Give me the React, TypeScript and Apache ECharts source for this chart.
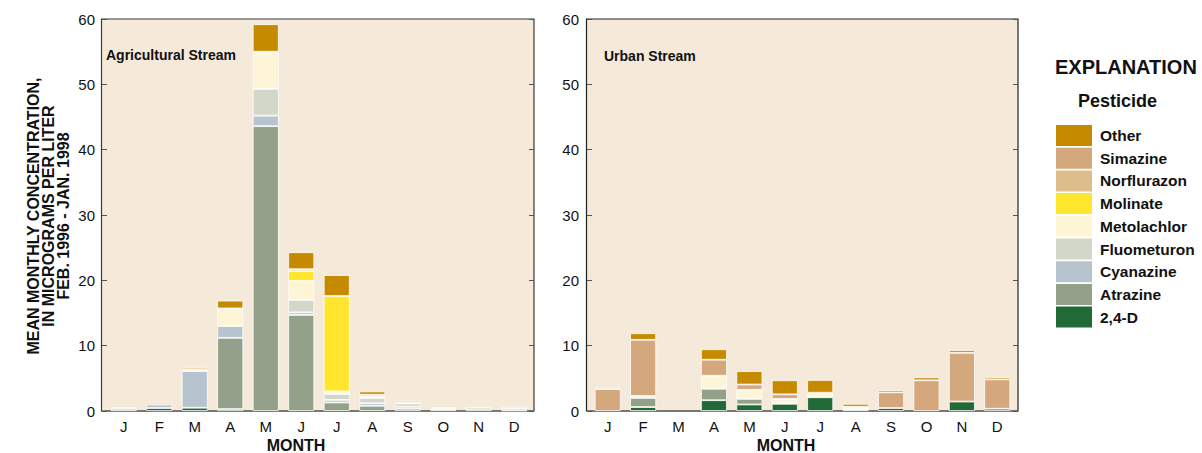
import React, { useEffect, useRef } from "react";
import * as echarts from "echarts";

// Month categories shared by both panels
const months = ["J", "F", "M", "A", "M", "J", "J", "A", "S", "O", "N", "D"];

// Pesticides, listed bottom of stack to top
const pesticides = [
  "2,4-D",
  "Atrazine",
  "Cyanazine",
  "Fluometuron",
  "Metolachlor",
  "Molinate",
  "Norflurazon",
  "Simazine",
  "Other",
];

const pesticideColors = [
  "#216a38",
  "#93a18b",
  "#b7c4cf",
  "#d2d7ca",
  "#fef5d6",
  "#ffe52b",
  "#dcbd8b",
  "#d4a77c",
  "#c68a00",
];

// Agricultural stream, micrograms per liter, one array per pesticide
const agr24D = [0, 0.45, 0.5, 0.3, 0, 0, 0, 0, 0, 0.2, 0.25, 0];
const agrAtrazine = [0, 0, 0, 10.9, 43.6, 14.7, 1.3, 0.8, 0.35, 0, 0, 0];
const agrCyanazine = [0, 0.55, 5.6, 1.8, 1.6, 0.4, 0.4, 0.4, 0.3, 0, 0, 0.1];
const agrFluometuron = [0.4, 0, 0, 0, 4.1, 1.9, 0.9, 0.8, 0.5, 0.2, 0.35, 0.35];
const agrMetolachlor = [0, 0, 0.2, 2.7, 5.5, 2.9, 0.4, 0.2, 0.15, 0, 0, 0];
const agrMolinate = [0, 0, 0, 0, 0, 1.5, 14.6, 0.3, 0, 0, 0, 0];
const agrNorflurazon = [0, 0, 0, 0, 0.2, 0.3, 0, 0, 0, 0, 0, 0];
const agrSimazine = [0, 0, 0, 0, 0, 0, 0, 0, 0, 0, 0, 0];
const agrOther = [0.2, 0.25, 0.3, 1.2, 4.2, 2.6, 3.2, 0.5, 0.25, 0.2, 0.25, 0.2];

// Urban stream, micrograms per liter
const urb24D = [0, 0.6, 0, 1.65, 1.0, 1.1, 2.1, 0.2, 0.45, 0, 1.45, 0.35];
const urbAtrazine = [0, 1.4, 0, 1.75, 0.85, 0.15, 0, 0, 0, 0, 0, 0];
const urbCyanazine = [0, 0, 0, 0, 0, 0, 0, 0, 0, 0, 0, 0];
const urbFluometuron = [0, 0.3, 0, 0, 0, 0, 0, 0, 0, 0, 0, 0];
const urbMetolachlor = [0, 0, 0, 2.0, 1.4, 0.6, 0.7, 0.25, 0, 0, 0, 0];
const urbMolinate = [0, 0, 0, 0, 0, 0, 0, 0, 0, 0, 0, 0];
const urbNorflurazon = [0, 0, 0, 0, 0, 0, 0, 0.2, 0, 0, 0, 0];
const urbSimazine = [3.35, 8.6, 0, 2.45, 0.8, 0.7, 0, 0, 2.4, 4.7, 7.45, 4.5];
const urbOther = [0.2, 1.0, 0, 1.6, 2.05, 2.15, 1.95, 0.45, 0.35, 0.45, 0.4, 0.35];

const yTicks = [0, 10, 20, 30, 40, 50, 60];

const agricultural = [
  agr24D,
  agrAtrazine,
  agrCyanazine,
  agrFluometuron,
  agrMetolachlor,
  agrMolinate,
  agrNorflurazon,
  agrSimazine,
  agrOther,
];
const urban = [
  urb24D,
  urbAtrazine,
  urbCyanazine,
  urbFluometuron,
  urbMetolachlor,
  urbMolinate,
  urbNorflurazon,
  urbSimazine,
  urbOther,
];

const FONT = "'Liberation Sans', Arial, Helvetica, sans-serif";
const PANEL_BG = "#f5e9da";
const INK = "#111";

function buildOption() {
  const yMin = yTicks[0];
  const yMax = yTicks[yTicks.length - 1];
  const yStep = yTicks[1] - yTicks[0];

  const grids = [
    { left: 106, top: 19, width: 426, bottom: 42 },
    { left: 590, top: 19, width: 425, bottom: 42 },
  ];

  const xAxes = grids.map((_, i) => ({
    type: "category",
    gridIndex: i,
    data: months,
    boundaryGap: true,
    axisLine: { show: true, lineStyle: { color: "#7c7672", width: 2 } },
    axisTick: { show: false },
    axisLabel: {
      color: INK,
      fontFamily: FONT,
      fontSize: 15,
      margin: 8,
      interval: 0,
    },
  }));

  const yBase = {
    type: "value",
    min: yMin,
    max: yMax,
    interval: yStep,
    splitLine: { show: false },
    axisLine: { show: false },
    axisTick: {
      show: true,
      inside: true,
      length: 5,
      lineStyle: { color: "#555", width: 1 },
    },
  };

  const yAxes = [
    {
      ...yBase,
      gridIndex: 0,
      position: "left",
      offset: 4,
      axisLabel: { color: INK, fontFamily: FONT, fontSize: 15, margin: 7 },
    },
    { ...yBase, gridIndex: 0, position: "right", offset: 2, axisLabel: { show: false } },
    {
      ...yBase,
      gridIndex: 1,
      position: "left",
      offset: 3,
      axisLabel: { color: INK, fontFamily: FONT, fontSize: 15, margin: 8 },
    },
    { ...yBase, gridIndex: 1, position: "right", offset: 3, axisLabel: { show: false } },
  ];

  const makeSeries = (panel: number[][], gridIdx: number, stackName: string) =>
    pesticides.map((name, k) => ({
      name,
      type: "bar",
      stack: stackName,
      xAxisIndex: gridIdx,
      yAxisIndex: gridIdx * 2,
      barWidth: 26,
      data: panel[k].map((v) => (v === 0 ? "-" : v)),
      itemStyle: {
        color: pesticideColors[k],
        borderColor: "#ffffff",
        borderWidth: 0.8,
      },
      emphasis: { disabled: true },
    }));

  const series = [
    ...makeSeries(agricultural, 0, "agr"),
    ...makeSeries(urban, 1, "urb"),
  ];

  const legendOrder = [...pesticides].reverse();

  const graphic = [
    // Panel backgrounds and frames
    {
      type: "rect",
      z: -10,
      shape: { x: 101.5, y: 19, width: 432.5, height: 392 },
      style: { fill: PANEL_BG, stroke: "#3a3a3a", lineWidth: 1.2 },
      silent: true,
    },
    {
      type: "rect",
      z: -10,
      shape: { x: 586.5, y: 19, width: 431.5, height: 392 },
      style: { fill: PANEL_BG, stroke: "#222", lineWidth: 1.2 },
      silent: true,
    },
    // Panel titles
    {
      type: "text",
      x: 106,
      y: 55,
      style: {
        text: "Agricultural Stream",
        fill: INK,
        font: `bold 14px ${FONT}`,
        textVerticalAlign: "middle",
      },
    },
    {
      type: "text",
      x: 604,
      y: 56,
      style: {
        text: "Urban Stream",
        fill: INK,
        font: `bold 14px ${FONT}`,
        textVerticalAlign: "middle",
      },
    },
    // Axis titles
    {
      type: "text",
      x: 296,
      y: 445,
      style: {
        text: "MONTH",
        fill: INK,
        font: `bold 16px ${FONT}`,
        textAlign: "center",
        textVerticalAlign: "middle",
      },
    },
    {
      type: "text",
      x: 786,
      y: 445,
      style: {
        text: "MONTH",
        fill: INK,
        font: `bold 16px ${FONT}`,
        textAlign: "center",
        textVerticalAlign: "middle",
      },
    },
    {
      type: "text",
      x: 48,
      y: 216,
      rotation: Math.PI / 2,
      style: {
        text: "MEAN MONTHLY CONCENTRATION,\nIN MICROGRAMS PER LITER\nFEB. 1996 - JAN. 1998",
        fill: INK,
        font: `bold 16px ${FONT}`,
        lineHeight: 15,
        textAlign: "center",
        textVerticalAlign: "middle",
      },
    },
    // Legend headings
    {
      type: "text",
      x: 1055,
      y: 67,
      style: {
        text: "EXPLANATION",
        fill: INK,
        font: `bold 20px ${FONT}`,
        textVerticalAlign: "middle",
      },
    },
    {
      type: "text",
      x: 1078,
      y: 101,
      style: {
        text: "Pesticide",
        fill: INK,
        font: `bold 18px ${FONT}`,
        textVerticalAlign: "middle",
      },
    },
  ];

  return {
    animation: false,
    backgroundColor: "#ffffff",
    textStyle: { fontFamily: FONT },
    grid: grids,
    xAxis: xAxes,
    yAxis: yAxes,
    series,
    legend: {
      data: legendOrder,
      orient: "vertical",
      left: 1056,
      top: 125,
      itemWidth: 36,
      itemHeight: 21,
      itemGap: 1.7,
      icon: "rect",
      selectedMode: false,
      padding: 0,
      itemStyle: { borderWidth: 0 },
      textStyle: {
        color: INK,
        fontFamily: FONT,
        fontSize: 15.5,
        fontWeight: "bold",
        padding: [0, 0, 0, 3],
      },
    },
    graphic,
  };
}

export default function App() {
  const ref = useRef<HTMLDivElement>(null);

  useEffect(() => {
    document.body.style.margin = "0";
    if (!ref.current) return;
    const chart = echarts.init(ref.current, null, { renderer: "svg" });
    chart.setOption(buildOption() as any);
    return () => {
      chart.dispose();
    };
  }, []);

  return <div ref={ref} style={{ width: 1202, height: 453 }} />;
}
